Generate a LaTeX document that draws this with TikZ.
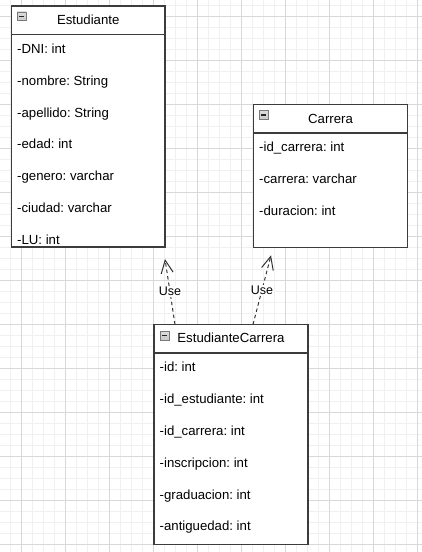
\documentclass[tikz,border=0pt]{standalone}
\usepackage{fontspec}
\setmainfont{Liberation Sans}
\usetikzlibrary{arrows.meta,calc}
\definecolor{bordercol}{HTML}{3C3C3C}
\definecolor{majorgrid}{HTML}{D8D8D8}
\definecolor{minorgrid}{HTML}{F0F0F0}
\definecolor{iconfill}{HTML}{B8B8B8}
\definecolor{iconedge}{HTML}{7A7A7A}
\definecolor{linkcol}{HTML}{333333}
\tikzset{
  minorline/.style={draw=minorgrid, line width=0.8pt},
  majorline/.style={draw=majorgrid, line width=0.8pt},
  classbox/.style={draw=bordercol, line width=1.4pt, fill=white, rectangle, inner sep=0pt, outer sep=0pt, anchor=north west},
  divline/.style={draw=bordercol, line width=1.4pt},
  hdrtext/.style={font=\fontsize{13.2}{15}\selectfont, inner sep=0pt, anchor=base},
  rowtext/.style={font=\fontsize{13.2}{15}\selectfont, inner sep=0pt, anchor=base west},
  iconbox/.style={draw=iconedge, line width=0.7pt, top color=iconfill!50, bottom color=iconfill!110!black, rectangle, inner sep=0pt, minimum width=8.5pt, minimum height=8.5pt, anchor=north west},
  iconminus/.style={draw=black!85, line width=1.2pt},
  uselink/.style={draw=linkcol, line width=1pt, dash pattern=on 3.5pt off 3pt, -{Straight Barb[length=13pt,width=12pt,line width=1pt]}},
  uselabel/.style={font=\fontsize{12.5}{14}\selectfont, fill=white, inner sep=1pt, text=black}
}
\frenchspacing
\begin{document}
\begin{tikzpicture}[x=1pt,y=-1pt]
\useasboundingbox (0,0) rectangle (422,552);
\fill[white] (0,0) rectangle (422,552);
% grid
\foreach \x in {10,21,...,421} \draw[minorline] (\x,0) -- (\x,552);
\foreach \y in {5,16,...,551} \draw[minorline] (0,\y) -- (422,\y);
\foreach \x in {21,65,...,421} \draw[majorline] (\x,0) -- (\x,552);
\foreach \y in {16,60,...,551} \draw[majorline] (0,\y) -- (422,\y);

% ---------- Estudiante ----------
\node[classbox, minimum width=153.5pt, minimum height=241pt] (est) at (11.5,6) {};
\draw[divline] ($(est.north west)+(0,28.5)$) -- ($(est.north east)+(0,28.5)$);
\node[iconbox] (esticon) at ($(est.north west)+(5.5,5.5)$) {};
\draw[iconminus] ($(esticon.west)+(1.8,0)$) -- ($(esticon.east)+(-1.8,0)$);
\node[hdrtext] (esth) at ($(est.north)+(0,18.5)$) {Estudiante};
\node[rowtext] (e1) at ($(est.north west)+(5.5,47.4)$) {-DNI: int};
\node[rowtext] (e2) at ($(est.north west)+(5.5,79.2)$) {-nombre: String};
\node[rowtext] (e3) at ($(est.north west)+(5.5,111.0)$) {-apellido: String};
\node[rowtext] (e4) at ($(est.north west)+(5.5,142.8)$) {-edad: int};
\node[rowtext] (e5) at ($(est.north west)+(5.5,174.6)$) {-genero: varchar};
\node[rowtext] (e6) at ($(est.north west)+(5.5,206.4)$) {-ciudad: varchar};
\node[rowtext] (e7) at ($(est.north west)+(5.5,238.2)$) {-LU: int};

% ---------- Carrera ----------
\node[classbox, minimum width=154pt, minimum height=143pt] (car) at (253.5,104.3) {};
\draw[divline] ($(car.north west)+(0,28.5)$) -- ($(car.north east)+(0,28.5)$);
\node[iconbox] (caricon) at ($(car.north west)+(5.5,6)$) {};
\draw[iconminus] ($(caricon.west)+(1.8,0)$) -- ($(caricon.east)+(-1.8,0)$);
\node[hdrtext] (carh) at ($(car.north)+(0,18.8)$) {Carrera};
\node[rowtext] (c1) at ($(car.north west)+(5.5,47.4)$) {-id\_carrera: int};
\node[rowtext] (c2) at ($(car.north west)+(5.5,79.6)$) {-carrera: varchar};
\node[rowtext] (c3) at ($(car.north west)+(5.5,111.6)$) {-duracion: int};

% ---------- EstudianteCarrera ----------
\node[classbox, minimum width=154pt, minimum height=220pt] (ec) at (154,324.5) {};
\draw[divline] ($(ec.north west)+(0,28.5)$) -- ($(ec.north east)+(0,28.5)$);
\node[iconbox] (ecicon) at ($(ec.north west)+(6,6.5)$) {};
\draw[iconminus] ($(ecicon.west)+(1.8,0)$) -- ($(ecicon.east)+(-1.8,0)$);
\node[hdrtext] (ech) at ($(ec.north)+(0,18.4)$) {EstudianteCarrera};
\node[rowtext] (r1) at ($(ec.north west)+(5.5,47.4)$) {-id: int};
\node[rowtext] (r2) at ($(ec.north west)+(5.5,79.2)$) {-id\_estudiante: int};
\node[rowtext] (r3) at ($(ec.north west)+(5.5,111.0)$) {-id\_carrera: int};
\node[rowtext] (r4) at ($(ec.north west)+(5.5,142.8)$) {-inscripcion: int};
\node[rowtext] (r5) at ($(ec.north west)+(5.5,174.6)$) {-graduacion: int};
\node[rowtext] (r6) at ($(ec.north west)+(5.5,206.4)$) {-antiguedad: int};

% ---------- links ----------
\coordinate (s1) at ($(ec.north west)+(21,0)$);
\coordinate (t1) at ($(est.south east)+(0,12)$);
\coordinate (s2) at ($(ec.north west)+(99,0)$);
\coordinate (t2) at ($(car.south west)+(17.5,8)$);
\draw[uselink] (s1) -- node[uselabel] (u1) {Use} (t1);
\draw[uselink] (s2) -- node[uselabel] (u2) {Use} (t2);
\end{tikzpicture}
\end{document}
